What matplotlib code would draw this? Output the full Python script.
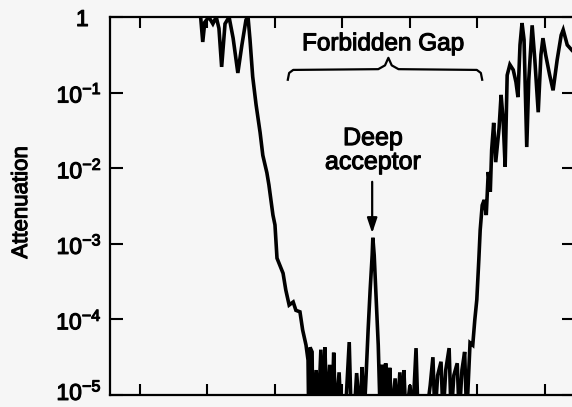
import numpy as np
import matplotlib.pyplot as plt
import matplotlib.patheffects as pe
from matplotlib.transforms import ScaledTranslation

plt.rcParams['font.family'] = ['Liberation Sans', 'DejaVu Sans']
plt.rcParams['mathtext.fontset'] = 'custom'
plt.rcParams['mathtext.rm'] = 'Liberation Sans'
plt.rcParams['mathtext.it'] = 'Liberation Sans:italic'
plt.rcParams['mathtext.bf'] = 'Liberation Sans:bold'

# Transmission scan: frequency (arb. units) and log10 of attenuation
freq = [10.74, 10.86, 10.90, 10.93, 10.96, 11.02, 11.08, 11.13, 11.17, 11.21,
        11.26, 11.32, 11.38, 11.45, 11.51, 11.57, 11.60, 11.63, 11.67, 11.72,
        11.78, 11.82, 11.88, 11.91, 11.94, 11.97, 12.00, 12.03, 12.07, 12.12,
        12.16, 12.21, 12.27, 12.31, 12.37, 12.41, 12.46, 12.49, 12.50, 12.52,
        12.55, 12.56, 12.61, 12.64, 12.68, 12.71, 12.74, 12.77, 12.81, 12.84,
        12.87, 12.90, 12.95, 12.98, 13.04, 13.10, 13.13, 13.17, 13.21, 13.26,
        13.29, 13.32, 13.35, 13.38, 13.41, 13.44, 13.45, 13.47, 13.50, 13.53,
        13.56, 13.59, 13.61, 13.64, 13.67, 13.70, 13.73, 13.78, 13.81, 13.85,
        13.88, 13.91, 13.94, 14.00, 14.04, 14.09, 14.12, 14.18, 14.24, 14.30,
        14.34, 14.37, 14.41, 14.46, 14.49, 14.53, 14.58, 14.61, 14.65, 14.70,
        14.73, 14.77, 14.81, 14.84, 14.89, 14.93, 14.96, 14.99, 15.02, 15.04,
        15.07, 15.10, 15.13, 15.16, 15.19, 15.21, 15.24, 15.27, 15.32, 15.35,
        15.38, 15.41, 15.44, 15.48, 15.53, 15.57, 15.60, 15.63, 15.66, 15.69,
        15.73, 15.76, 15.81, 15.85, 15.90, 15.94, 15.97, 16.01, 16.07, 16.12,
        16.18, 16.24, 16.27, 16.33, 16.40, 16.52]

log_atten = [0.16, 0.04, -0.01, -0.33, -0.07, 0.00, -0.09, 0.00, -0.15, -0.66,
             -0.09, 0.00, -0.28, -0.74, -0.37, -0.04, 0.01, -0.30, -0.79, -1.16,
             -1.53, -1.83, -2.06, -2.22, -2.42, -2.62, -2.75, -3.19, -3.28, -3.39,
             -3.61, -3.81, -3.77, -3.88, -3.90, -4.14, -4.34, -4.54, -5.30, -4.37,
             -4.43, -5.30, -4.67, -5.30, -4.40, -5.30, -4.37, -5.30, -4.60, -5.30,
             -4.44, -5.30, -4.70, -5.30, -5.30, -4.30, -5.30, -5.30, -4.71, -5.30,
             -4.63, -5.30, -4.74, -4.14, -3.61, -3.15, -2.92, -3.15, -3.74, -4.34,
             -5.30, -4.60, -5.30, -4.58, -5.30, -4.64, -5.30, -4.78, -5.30, -4.70,
             -5.30, -4.67, -5.30, -4.87, -5.30, -4.38, -5.30, -5.30, -5.30, -4.87,
             -4.50, -5.30, -4.74, -4.56, -5.30, -4.67, -4.38, -5.30, -4.74, -4.58,
             -5.30, -4.67, -4.43, -5.30, -4.31, -4.34, -4.01, -3.74, -3.21, -2.82,
             -2.49, -2.42, -2.62, -2.05, -2.31, -1.76, -1.40, -1.92, -1.47, -1.03,
             -1.36, -1.98, -0.77, -0.63, -0.70, -0.86, -1.06, -0.37, -0.08, -0.30,
             -1.72, -0.83, -0.11, -0.57, -1.26, -0.50, -0.28, -0.50, -0.77, -0.97,
             -0.57, -0.24, -0.17, -0.37, -0.44, -0.37]

y_ticks = [1, 1e-1, 1e-2, 1e-3, 1e-4, 1e-5]
y_ticklabels = ['1', r'$10^{-1}$', r'$10^{-2}$', r'$10^{-3}$', r'$10^{-4}$', r'$10^{-5}$']
x_ticks = [10, 11, 12, 13, 14, 15, 16]

# band gap edges and the acceptor level
gap_lo, gap_hi = 12.19, 15.07
acceptor_freq = 13.45

atten = 10.0 ** np.array(log_atten)

heavy = [pe.withStroke(linewidth=0.8, foreground='black')]
bg = '#f6f6f6'
fig = plt.figure(figsize=(5.72, 4.07), dpi=100, facecolor=bg)
ax = fig.add_axes([110 / 572, 12 / 407, 464 / 572, 378 / 407], facecolor=bg)

ax.plot(freq, atten, color='black', linewidth=2.6, solid_joinstyle='miter')

ax.set_yscale('log')
ax.set_ylim(1e-5, 1)
ax.set_xlim(9.556, 16.43)
ax.set_yticks(y_ticks)
ax.set_yticklabels(y_ticklabels, fontsize=16.5)
ax.yaxis.set_minor_locator(plt.NullLocator())
ax.set_xticks(x_ticks)
ax.set_xticklabels([])
ax.tick_params(direction='in', length=8, width=1.5, top=True, right=True, pad=6)
ax.tick_params(axis='y', length=9)
for sp in ax.spines.values():
    sp.set_linewidth(1.6)
ylabs = ax.get_yticklabels()
for lab in ylabs:
    lab.set_path_effects(heavy)
# the plain "1" sits left of the other labels, the bottom one a little higher
ylabs[0].set_transform(ylabs[0].get_transform() + ScaledTranslation(-0.13, 0, fig.dpi_scale_trans))
ylabs[-1].set_transform(ylabs[-1].get_transform() + ScaledTranslation(0, 0.05, fig.dpi_scale_trans))

ax.set_ylabel('Attenuation', fontsize=16, path_effects=heavy)
ax.yaxis.set_label_coords(-0.168, 0.51)

# bracket over the forbidden gap
gap_mid = 0.5 * (gap_lo + gap_hi) + 0.05
bx = [gap_lo, gap_lo + 0.02, gap_lo + 0.08, gap_mid - 0.15, gap_mid - 0.05, gap_mid,
      gap_mid + 0.05, gap_mid + 0.15, gap_hi - 0.08, gap_hi - 0.02, gap_hi]
by = [10 ** -0.83, 10 ** -0.74, 10 ** -0.70, 10 ** -0.69, 10 ** -0.64, 10 ** -0.54,
      10 ** -0.64, 10 ** -0.69, 10 ** -0.70, 10 ** -0.74, 10 ** -0.83]
ax.plot(bx, by, color='black', linewidth=1.6)
ax.text(13.60, 10 ** -0.36, 'Forbidden Gap', fontsize=17.5, ha='center', va='center',
        path_effects=heavy)

ax.text(acceptor_freq, 10 ** -1.76, 'Deep\nacceptor', fontsize=18, ha='center',
        va='center', linespacing=1.0, path_effects=heavy)
ax.annotate('', xy=(acceptor_freq - 0.01, 10 ** -2.86), xytext=(acceptor_freq - 0.01, 10 ** -2.18),
            arrowprops=dict(arrowstyle='-|>,head_length=0.9,head_width=0.3',
                            color='black', lw=1.6, shrinkA=0, shrinkB=0))

fig.savefig('out.png', dpi=100, facecolor=bg)
